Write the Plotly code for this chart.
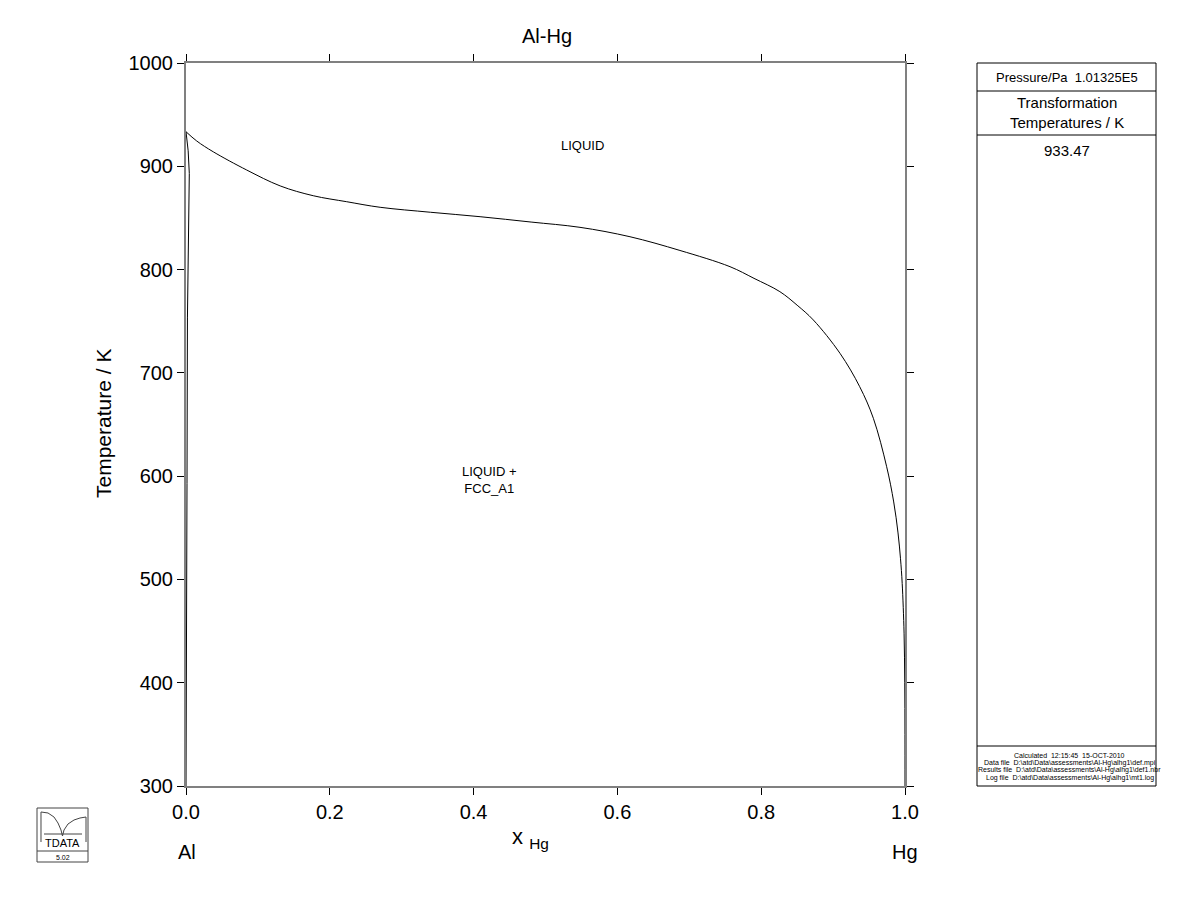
import plotly.graph_objects as go

# ---------------- data ----------------
liq_x = [0.0, 0.0149, 0.038, 0.0844, 0.131, 0.177, 0.2235, 0.27, 0.34, 0.409, 0.48, 0.548,
         0.6175, 0.687, 0.7566, 0.79, 0.826, 0.85, 0.8725, 0.9096, 0.937, 0.956, 0.9745,
         0.9843, 0.9903, 0.99375, 0.9961, 0.9987, 0.99965, 0.99994, 1.0]
liq_T = [933.47, 924.5, 914.0, 896.4, 881.0, 871.5, 865.7, 860.3, 855.5, 851.2, 846.0, 840.9,
         831.8, 818.5, 802.8, 791.5, 778.6, 765.5, 751.2, 718.9, 686.6, 656.0, 609.1,
         575.0, 545.0, 520.0, 496.0, 448.0, 400.0, 350.0, 300.0]

sol_x = [0.0, 0.0030, 0.0046, 0.0040, 0.0032, 0.0020, 0.0014, 0.0008, 0.0003, 0.0001, 0.0]
sol_T = [933.47, 915.0, 893.0, 850.0, 809.0, 754.0, 593.0, 520.0, 450.0, 380.0, 300.0]

x_ticks = [0.0, 0.2, 0.4, 0.6, 0.8, 1.0]
y_ticks = [300, 400, 500, 600, 700, 800, 900, 1000]

title = "Al-Hg"
pressure_text = "Pressure/Pa  1.01325E5"
transf_header = "Transformation<br>Temperatures / K"
transf_values = ["933.47"]
footer_lines = [
    "Calculated  12:15:45  15-OCT-2010",
    "Data file  D:\\atd\\Data\\assessments\\Al-Hg\\alhg1\\def.mpi",
    "Results file  D:\\atd\\Data\\assessments\\Al-Hg\\alhg1\\def1.nbr",
    "Log file  D:\\atd\\Data\\assessments\\Al-Hg\\alhg1\\mt1.log",
]

# ---------------- geometry helpers (pixel -> paper) ----------------
W, H = 1200, 923
OFF = 8  # page body margin
L, R, T, B = 186, 905, 63, 786


def px(xp):
    return (xp - L) / (R - L)


def py(yp):
    return (B - yp) / (B - T)


FONT = "Liberation Sans, Arial, sans-serif"

fig = go.Figure()
fig.add_trace(go.Scatter(x=liq_x, y=liq_T, mode="lines",
                         line=dict(color="black", width=1, shape="spline", smoothing=1.0),
                         hoverinfo="skip"))
fig.add_trace(go.Scatter(x=sol_x, y=sol_T, mode="lines",
                         line=dict(color="black", width=1), hoverinfo="skip"))

axis_common = dict(showline=True, linecolor="#808080", linewidth=2, mirror="ticks",
                   ticks="outside", ticklen=7, tickcolor="black", tickwidth=1,
                   showgrid=False, zeroline=False,
                   tickfont=dict(family=FONT, size=20, color="black"))

fig.update_xaxes(range=[0, 1], tickvals=x_ticks, tickformat=".1f", **axis_common)
fig.update_yaxes(range=[300, 1000], tickvals=y_ticks, **axis_common)

ann = []


def text(xp, yp, s, size, xanchor="center", yanchor="middle", angle=0):
    ann.append(dict(x=px(xp), y=py(yp), xref="paper", yref="paper", text=s,
                    showarrow=False, xanchor=xanchor, yanchor=yanchor,
                    textangle=angle, font=dict(family=FONT, size=size, color="black")))


text(547, 36, title, 20)
text(103, 424, "Temperature / K", 21, angle=-90)
text(530, 838, "x <sub>Hg</sub>", 22)
text(187, 852, "Al", 20)
text(905, 852, "Hg", 20)
text(582, 145, "LIQUID", 13)
text(489, 480, "LIQUID +<br>FCC_A1", 13)

# right panel
PL, PR = 977, 1156
text((PL + PR) / 2, 77, pressure_text, 13)
text((PL + PR) / 2, 113, transf_header, 15)
for i, v in enumerate(transf_values):
    text((PL + PR) / 2, 150 + 20 * i, v, 15)
for i, s in enumerate(footer_lines):
    text((PL + PR) / 2 + 3, 755 + 7.5 * i, s, 7)

# logo text
text(62.5, 843, "TDATA", 11)
text(62.5, 857, "5.02", 7)

shapes = []


def rect(x0, y0, x1, y1, color="black", width=1):
    shapes.append(dict(type="rect", xref="paper", yref="paper",
                       x0=px(x0), x1=px(x1), y0=py(y0), y1=py(y1),
                       line=dict(color=color, width=width)))


def hline(x0, x1, y, color="black", width=1):
    shapes.append(dict(type="line", xref="paper", yref="paper",
                       x0=px(x0), x1=px(x1), y0=py(y), y1=py(y),
                       line=dict(color=color, width=width)))


rect(PL, T, PR, B)
hline(PL, PR, 91)
hline(PL, PR, 135)
hline(PL, PR, 746)

# logo
rect(37, 808, 88, 862, color="#444")
hline(37, 88, 851, color="#444")
hline(44, 82, 834, color="#444")


def path_pts(pts):
    d = "M " + " L ".join(f"{px(a):.5f},{py(b):.5f}" for a, b in pts)
    shapes.append(dict(type="path", xref="paper", yref="paper", path=d,
                       line=dict(color="#444", width=1)))


path_pts([(41, 812), (48, 813), (54, 817), (58, 823), (61, 830), (62.5, 836)])
path_pts([(62.5, 836), (64, 830), (68, 824), (74, 820), (80, 818), (86, 817)])
path_pts([(41, 812), (41, 842)])
path_pts([(86, 817), (86, 842)])

fig.update_layout(
    width=W, height=H,
    margin=dict(l=L - OFF, r=W - R + OFF, t=T - OFF, b=H - B + OFF, autoexpand=False),
    paper_bgcolor="white", plot_bgcolor="white",
    showlegend=False,
    annotations=ann, shapes=shapes,
    font=dict(family=FONT, color="black"),
)

fig.write_html("out.html")
